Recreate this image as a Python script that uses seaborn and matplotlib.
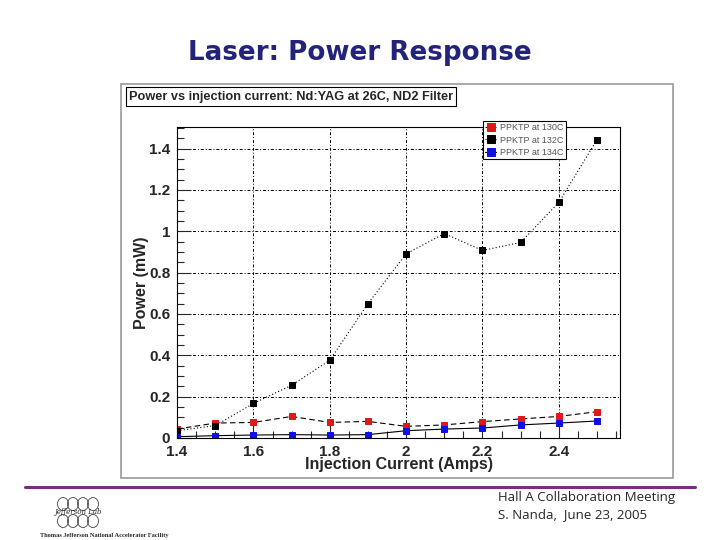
import numpy as np
import pandas as pd
import seaborn as sns
import matplotlib.pyplot as plt
from matplotlib.patches import Rectangle, Ellipse
from matplotlib.ticker import MultipleLocator, FuncFormatter

current = [1.4, 1.5, 1.6, 1.7, 1.8, 1.9, 2.0, 2.1, 2.2, 2.3, 2.4, 2.5]
power_130 = [0.043, 0.072, 0.075, 0.104, 0.075, 0.080, 0.056, 0.063, 0.079, 0.092, 0.104, 0.127]
power_132 = [0.035, 0.060, 0.167, 0.255, 0.376, 0.650, 0.891, 0.989, 0.907, 0.946, 1.140, 1.443]
power_134 = [0.006, 0.011, 0.014, 0.016, 0.014, 0.016, 0.035, 0.043, 0.048, 0.063, 0.072, 0.082]
labels = ['PPKTP at 130C', 'PPKTP at 132C', 'PPKTP at 134C']

sns.set_style('white')
plt.rcParams['font.family'] = ['Liberation Sans', 'DejaVu Sans']

fig = plt.figure(figsize=(7.2, 5.4), dpi=100)

# slide title
fig.text(0.5, 0.902, 'Laser: Power Response', ha='center', va='center',
         fontsize=18.8, color='#23237a', fontweight='bold', family=['DejaVu Sans'])

# grey panel frame around the ROOT canvas
fig.patches.append(Rectangle((121 / 720, 1 - 478 / 540), 552 / 720, 394 / 540,
                             transform=fig.transFigure, facecolor='white',
                             edgecolor='#9a9a9a', lw=1.2, zorder=-5))

ax = fig.add_axes([0.246, 0.189, 0.615, 0.576])
ax.patch.set_alpha(0)

series = [(power_130, '#e01818', (5, 3)),
          (power_132, 'black', (1, 2)),
          (power_134, '#1010e0', '')]
for (vals, col, dash), lab in zip(series, labels):
    df = pd.DataFrame({'current': current, 'power': vals})
    sns.lineplot(data=df, x='current', y='power', ax=ax, color=col,
                 marker='s', markersize=4.6, markeredgecolor=col,
                 lw=0.8, label=lab)
    line = ax.lines[-1]
    line.set_color('black')
    line.set_markerfacecolor(col)
    line.set_markeredgecolor(col)
    if dash:
        line.set_dashes(dash)

ax.set_xlim(1.4, 2.56)
ax.set_ylim(0, 1.505)
ax.xaxis.set_major_locator(MultipleLocator(0.2))
ax.xaxis.set_minor_locator(MultipleLocator(0.05))
ax.yaxis.set_major_locator(MultipleLocator(0.2))
ax.yaxis.set_minor_locator(MultipleLocator(0.05))
fmt = FuncFormatter(lambda v, p: ('%.1f' % v).rstrip('0').rstrip('.') if abs(v) > 1e-9 else '0')
ax.xaxis.set_major_formatter(fmt)
ax.yaxis.set_major_formatter(fmt)
ax.tick_params(axis='both', which='major', direction='in', length=10, width=0.8,
               labelsize=11, top=False, right=False, left=True, bottom=True)
ax.tick_params(axis='x', which='major', pad=5)
ax.tick_params(axis='y', which='major', pad=5)
ax.tick_params(axis='both', which='minor', direction='in', length=5, width=0.8,
               top=False, right=False, left=True, bottom=True)
for t in ax.get_xticklabels() + ax.get_yticklabels():
    t.set_fontweight('bold')

ax.grid(True, which='major', color='black', linestyle=(0, (3, 2, 1, 2)), lw=0.7)
for s in ax.spines.values():
    s.set_color('black')
    s.set_linewidth(0.8)

ax.set_xlabel('Injection Current (Amps)', fontsize=11.5, fontweight='bold', labelpad=-1)
ax.set_ylabel('Power (mW)', fontsize=11.5, fontweight='bold', labelpad=0)

leg = ax.legend(loc='upper left', bbox_to_anchor=(0.69, 1.02), fontsize=6.5,
                frameon=True, fancybox=False, edgecolor='black', handlelength=1.2,
                handletextpad=0.4, borderpad=0.3, labelspacing=0.35,
                borderaxespad=0, framealpha=1, markerscale=1.4)
leg.get_frame().set_linewidth(0.8)
for t in leg.get_texts():
    t.set_color('#555555')

# histogram title box
fig.text(0.179, 0.821, 'Power vs injection current: Nd:YAG at 26C, ND2 Filter',
         ha='left', va='center', fontsize=9.2, fontweight='bold',
         bbox=dict(boxstyle='square,pad=0.25', facecolor='white',
                   edgecolor='black', lw=0.8))

# footer
fig.add_artist(plt.Line2D([25 / 720, 695 / 720], [1 - 487 / 540, 1 - 487 / 540],
                          transform=fig.transFigure, color='#7a2c80', lw=2.2))
fig.text(498 / 720, 1 - 498 / 540, 'Hall A Collaboration Meeting', ha='left',
         va='center', fontsize=9.5, family=['Open Sans', 'DejaVu Sans'])
fig.text(498 / 720, 1 - 515 / 540, 'S. Nanda,  June 23, 2005', ha='left',
         va='center', fontsize=9.5, family=['Open Sans', 'DejaVu Sans'])
fig.text(40 / 720, 1 - 535 / 540, 'Thomas Jefferson National Accelerator Facility',
         ha='left', va='center', fontsize=4.6, fontweight='bold',
         family=['Liberation Serif', 'DejaVu Serif'])

# rough logo
for cx in [63, 73, 83, 93]:
    for cy in [504, 521]:
        fig.patches.append(Ellipse((cx / 720, 1 - cy / 540), 11 / 720, 13 / 540,
                                   transform=fig.transFigure, fill=False,
                                   edgecolor='#444444', lw=0.6))
fig.text(78 / 720, 1 - 512 / 540, 'Jefferson Lab', ha='center', va='center',
         fontsize=5, style='italic', family=['DejaVu Serif'])

fig.savefig('out.png', dpi=100)
